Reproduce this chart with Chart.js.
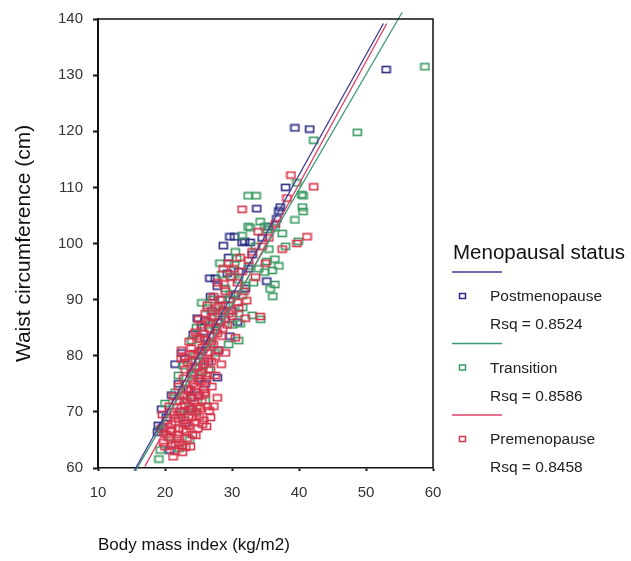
<!DOCTYPE html>
<html>
<head>
<meta charset="utf-8">
<script src="https://cdn.jsdelivr.net/npm/chart.js@4.4.0/dist/chart.umd.min.js"></script>
<style>
  html, body { margin: 0; padding: 0; background: #fff; }
</style>
</head>
<body>
<canvas id="myChart" width="631" height="561"></canvas>
<script>

// BMI (kg/m2), waist (cm) pairs
var postPoints = [
  [53.0,131.0],[39.4,120.6],[41.6,120.4],[33.7,106.2],[37.0,105.8],[36.7,104.4],[37.2,106.5],
  [29.7,101.2],[28.7,99.6],[31.5,100.2],[32.7,100.2],[30.4,101.2],[31.9,100.4],[29.3,94.7],
  [27.5,93.8],[26.7,93.8],[27.8,92.4],[35.2,93.3],[24.8,86.7],[26.0,86.2],[29.7,83.5],
  [26.0,83.2],[23.0,79.5],[27.8,76.1],[19.0,67.6],[18.9,66.4],[20.7,63.2],[19.7,67.3],
  [28.5,90.0],[30.5,91.0],[25.5,81.0],[24.5,78.0],[22.0,75.0],[21.0,73.0],[23.5,74.0],
  [26.5,79.0],[28.0,86.0],[31.0,95.0],[33.0,98.0],[34.5,101.0],[22.3,70.0],[20.2,69.0],
  [24.0,72.5],[27.0,88.0],[29.0,86.5],[25.5,85.0],[30.0,88.0],[32.0,92.0],[21.5,78.5],
  [19.5,70.5],[26.0,75.0],[28.0,81.0],[23.0,68.0],[25.0,73.0],[35.5,103.0],[38.0,110.0],
  [22.5,80.5],[23.8,70.5],[25.2,76.0],[29.5,97.5],[32.5,95.5],[26.8,90.5],[30.8,86.0],
  [24.2,83.8]
];

var transPoints = [
  [58.8,131.5],[48.7,119.8],[42.2,118.4],[39.7,110.8],[40.6,108.5],[40.4,108.7],[32.4,108.5],
  [33.6,108.5],[40.6,105.7],[39.4,104.2],[34.2,103.9],[32.4,103.0],[34.9,103.0],[39.9,100.4],
  [37.5,101.8],[35.3,102.5],[36.4,102.8],[32.7,102.8],[31.5,101.4],[30.7,97.3],[30.4,96.3],
  [35.2,96.8],[36.4,97.2],[34.9,94.9],[36.0,95.2],[30.0,94.1],[31.0,93.5],[36.4,92.7],
  [35.7,91.9],[32.0,92.5],[31.5,90.7],[29.7,90.1],[25.5,89.4],[26.3,88.5],[28.5,88.0],
  [31.0,87.5],[33.0,87.2],[31.2,85.7],[30.1,85.5],[24.0,82.7],[25.2,83.0],[29.5,82.0],
  [31.0,82.7],[22.7,78.2],[26.5,77.5],[20.0,71.5],[19.3,66.9],[23.7,65.0],[19.3,63.2],
  [22.1,63.5],[19.1,61.6],[24.5,80.0],[27.5,84.5],[28.0,86.0],[27.0,90.0],[29.0,92.0],
  [23.0,75.0],[25.0,79.0],[21.5,73.5],[22.5,69.5],[24.5,70.0],[26.0,72.0],[20.8,65.5],
  [28.5,94.5],[30.5,98.5],[33.5,99.5],[27.5,80.5],[29.0,89.0],[32.5,96.0],[26.5,85.5],
  [22.0,76.5],[34.0,95.5],[38.0,99.5],[40.5,106.5],[36.1,90.6],[34.3,86.5],
  [24.3,76.5],[25.6,77.2],[23.2,72.0],[26.8,82.2],[29.8,91.0],[33.2,93.0],[31.6,88.6],
  [27.8,87.6],[24.7,85.0],[35.5,99.0],[37.0,96.0],[28.2,96.5]
];

var prePoints = [
  [42.2,110.1],[38.8,112.2],[38.2,108.1],[31.5,106.1],[41.2,101.2],[39.7,100.0],[33.9,102.1],
  [32.0,86.7],[34.2,87.0],
  [20.5,65.5],[21.8,65.3],[21.2,62.0],[20.0,63.8],[22.0,67.0],[21.5,68.2],[22.8,68.5],
  [23.5,69.0],[22.3,70.0],[24.0,70.5],[23.0,71.2],[24.8,71.0],[25.5,72.0],[23.8,72.5],
  [22.6,73.0],[24.5,73.5],[25.8,74.0],[23.2,74.2],[24.2,75.0],[25.0,75.5],[26.2,75.8],
  [22.8,76.0],[23.9,76.8],[25.4,77.0],[26.8,77.5],[24.6,78.0],[23.4,78.8],[25.9,79.0],
  [24.9,80.0],[26.5,80.5],[22.5,81.0],[24.2,80.4],[25.6,81.5],[27.2,82.0],[26.0,82.8],
  [24.8,83.5],[27.8,84.0],[26.7,84.8],[25.5,85.5],[28.3,86.0],[27.0,86.8],[28.8,88.0],
  [27.6,88.5],[29.5,89.0],[28.2,90.0],[30.2,90.8],[29.0,91.5],[30.8,93.0],[29.8,94.0],
  [31.5,95.0],[32.5,97.0],[33.0,98.5],[34.5,99.5],[35.5,101.0],[36.5,103.5],[21.0,70.0],
  [20.3,68.5],[19.5,67.0],[21.7,71.8],[23.2,66.5],[22.1,64.5],[20.8,66.8],[23.6,67.5],
  [24.4,68.2],[25.1,69.2],[26.3,71.0],[26.0,73.2],[27.0,74.5],[27.5,76.5],[24.0,79.2],
  [22.0,74.5],[21.3,72.8],[23.0,77.5],[25.2,83.0],[24.5,84.2],[26.9,79.0],[28.0,81.0],
  [28.5,83.5],[29.3,85.5],[27.3,90.5],[26.0,87.5],[25.0,86.5],[30.0,87.0],[31.0,88.5],
  [23.8,63.8],[21.5,63.0],[19.8,64.5],[22.6,62.8],[28.7,95.5],[31.8,91.5],[33.5,94.0],
  [35.0,96.5],[37.5,99.0],[32.2,89.8],[30.5,83.2],[29.0,80.5],[24.1,66.0],[25.6,67.8],
  [26.6,70.2],[27.8,72.5],[20.6,71.0],[19.6,69.5],[22.4,79.5],[23.6,82.5],
  [21.0,66.5],[21.9,66.0],[22.7,66.8],[23.4,68.0],[24.1,69.0],[24.7,69.8],[25.3,70.6],
  [22.0,68.8],[22.9,70.2],[23.6,71.0],[24.4,71.8],[25.1,72.8],[25.9,73.5],[23.0,72.8],
  [23.8,73.8],[24.6,74.6],[25.4,75.4],[26.1,76.5],[24.0,77.0],[24.9,77.8],[25.7,78.5],
  [26.4,79.5],[25.2,80.8],[26.1,81.6],[26.9,82.6],[25.8,84.0],[26.5,86.0],[27.4,87.0],
  [28.0,88.8],[27.0,83.5],[27.7,85.2],[23.3,65.3],[22.5,64.0],[21.6,64.2],[20.9,64.0],
  [24.9,67.0],[25.8,68.5],[26.8,69.0],[27.3,71.0],[20.2,66.0],[19.8,66.3],[22.2,72.0],
  [21.4,69.5],[28.6,84.8],[29.5,87.5],[28.8,92.8],[30.2,95.5],[31.2,97.5],[29.5,96.5],
  [30.8,89.5],[26.3,89.0],[27.9,93.0],[22.9,79.8],[23.9,81.3],[27.5,79.8],[28.4,78.5],
  [21.0,67.8],[23.1,63.7],[24.6,65.8],[26.2,67.4]
];

// fit line end points
var postFit = [[15.4,59.5],[52.6,139.2]];
var transFit = [[15.6,59.5],[55.4,141.2]];
var preFit = [[17.0,60.3],[53.1,139.2]];

var seriesNames = ['Postmenopause', 'Transition', 'Premenopause'];
var rsqValues = ['0.8524', '0.8586', '0.8458'];
var seriesColors = ['#2b2b82', '#3a9a62', '#d6344a'];
var lineColors = ['#3d3a8e', '#3c9870', '#dc3f66'];

var xTicks = [10, 20, 30, 40, 50, 60];
var yTicks = [60, 70, 80, 90, 100, 110, 120, 130, 140];

var fontFamily = '"Liberation Sans", Arial, sans-serif';

function toXY(list) {
  return list.map(function (p) { return { x: p[0], y: p[1] }; });
}

// little hollow box used as the point marker
function boxMarker(color) {
  var c = document.createElement('canvas');
  c.width = 11;
  c.height = 9;
  var g = c.getContext('2d');
  g.strokeStyle = color;
  g.lineWidth = 1.6;
  g.strokeRect(1.5, 1.5, 8, 6);
  return c;
}

var pointSets = [postPoints, transPoints, prePoints];
var fitSets = [postFit, transFit, preFit];

var datasets = [];
for (var i = 0; i < 3; i++) {
  datasets.push({
    label: seriesNames[i] + ' fit',
    data: toXY(fitSets[i]),
    showLine: true,
    borderColor: lineColors[i],
    borderWidth: 1.3,
    pointRadius: 0,
    fill: false,
    clip: false,
    order: 0
  });
}
for (var j = 0; j < 3; j++) {
  datasets.push({
    label: seriesNames[j],
    data: toXY(pointSets[j]),
    pointStyle: boxMarker(seriesColors[j]),
    pointRadius: 4,
    showLine: false,
    order: 3 - j
  });
}

// frame on top and right, plus the legend on the right
var framePlugin = {
  id: 'frame',
  afterDraw: function (chart) {
    var ctx = chart.ctx;
    var a = chart.chartArea;
    ctx.save();
    ctx.strokeStyle = '#111';
    ctx.lineWidth = 1.5;
    ctx.beginPath();
    ctx.moveTo(a.left, a.top);
    ctx.lineTo(a.right, a.top);
    ctx.lineTo(a.right, a.bottom);
    ctx.stroke();

    // legend
    var lx = 453;
    ctx.fillStyle = '#111';
    ctx.textBaseline = 'middle';
    ctx.textAlign = 'left';
    ctx.font = '20.5px ' + fontFamily;
    ctx.fillText('Menopausal status', lx, 253);

    for (var k = 0; k < seriesNames.length; k++) {
      var top = 272 + k * 71.5;
      ctx.strokeStyle = lineColors[k];
      ctx.lineWidth = 1.3;
      ctx.beginPath();
      ctx.moveTo(452, top);
      ctx.lineTo(502, top);
      ctx.stroke();

      ctx.strokeStyle = seriesColors[k];
      ctx.lineWidth = 1.5;
      ctx.strokeRect(459.5, top + 21.5, 6, 5);

      ctx.fillStyle = '#222';
      ctx.font = '15.5px ' + fontFamily;
      ctx.fillText(seriesNames[k], 490, top + 25);
      ctx.fillText('Rsq = ' + rsqValues[k], 490, top + 53);
    }
    ctx.restore();
  }
};

var ctx = document.getElementById('myChart');

var myScatter = new Chart(ctx, {
  type: 'scatter',
  data: { datasets: datasets },
  options: {
    responsive: false,
    animation: false,
    events: [],
    layout: { padding: { left: 0, right: 198, top: 16, bottom: 0 } },
    plugins: {
      legend: { display: false },
      tooltip: { enabled: false }
    },
    scales: {
      x: {
        type: 'linear',
        min: 10,
        max: 60,
        afterFit: function (scale) { scale.height = 93; },
        afterBuildTicks: function (scale) {
          scale.ticks = xTicks.map(function (v) { return { value: v }; });
        },
        ticks: {
          color: '#333',
          padding: 13,
          font: { family: fontFamily, size: 15 }
        },
        grid: {
          drawOnChartArea: false,
          drawTicks: true,
          tickLength: 3,
          tickWidth: 2,
          tickColor: '#111'
        },
        border: { display: true, color: '#111', width: 1.5 },
        title: {
          display: true,
          text: 'Body mass index (kg/m2)',
          align: 'start',
          color: '#111',
          font: { family: fontFamily, size: 17 },
          padding: { top: 0, bottom: 5 }
        }
      },
      y: {
        type: 'linear',
        min: 60,
        max: 140,
        afterFit: function (scale) { scale.width = 98; },
        afterBuildTicks: function (scale) {
          scale.ticks = yTicks.map(function (v) { return { value: v }; });
        },
        ticks: {
          color: '#333',
          padding: 10,
          font: { family: fontFamily, size: 15 }
        },
        grid: {
          drawOnChartArea: false,
          drawTicks: true,
          tickLength: 5,
          tickWidth: 2,
          tickColor: '#111'
        },
        border: { display: true, color: '#111', width: 2 },
        title: {
          display: true,
          text: 'Waist circumference (cm)',
          color: '#111',
          font: { family: fontFamily, size: 21 },
          padding: { top: 12, bottom: 0 }
        }
      }
    }
  },
  plugins: [framePlugin]
});
</script>
</body>
</html>
